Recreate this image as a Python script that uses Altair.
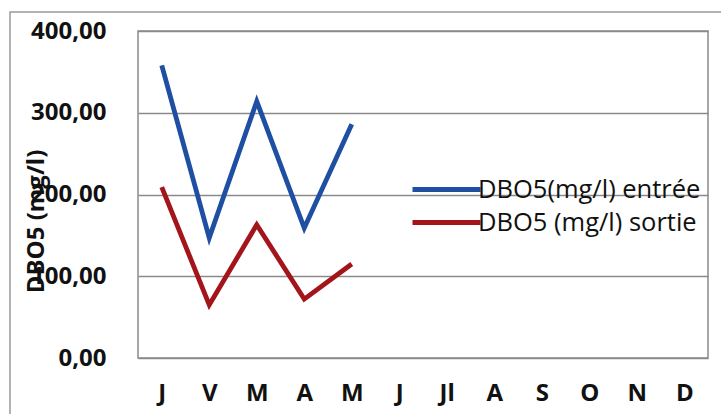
import altair as alt
import pandas as pd

month_labels = ["J", "V", "M", "A", "M", "J", "Jl", "A", "S", "O", "N", "D"]
entree = [358, 147, 314, 159, 286]
sortie = [209, 65, 163, 72, 115]
series_names = ["DBO5(mg/l) entrée", "DBO5 (mg/l) sortie"]
colors = ["#1f4fa3", "#a3151b"]

rows = []
for i, v in enumerate(entree):
    rows.append({"m": i, "v": v, "s": series_names[0]})
for i, v in enumerate(sortie):
    rows.append({"m": i, "v": v, "s": series_names[1]})
df = pd.DataFrame(rows)

label_js = "[" + ",".join("'" + l + "'" for l in month_labels) + "][datum.value]"

FONT = "Open Sans"

lines = alt.Chart(df).mark_line(strokeWidth=4.8).encode(
    x=alt.X("m:O", scale=alt.Scale(domain=list(range(12))),
            axis=alt.Axis(title=None, labelExpr=label_js, labelAngle=0, ticks=False,
                          domain=False, labelPadding=23, labelFont=FONT, labelFontSize=24,
                          labelFontWeight="bold", labelColor="#111", grid=False)),
    y=alt.Y("v:Q", scale=alt.Scale(domain=[0, 400], nice=False),
            axis=alt.Axis(title="DBO5 (mg/l)", values=[0, 100, 200, 300, 400],
                          labelExpr="replace(format(datum.value, '.2f'), '.', ',')",
                          ticks=False, domain=False, labelPadding=32, labelFont=FONT,
                          labelFontSize=24, labelFontWeight="bold", labelColor="#111",
                          titleFont=FONT, titleFontSize=24, titleFontWeight="bold",
                          titleColor="#111", titleAngle=270, titleX=-102, titleY=190,
                          titleAlign="center", titleBaseline="middle",
                          grid=True, gridColor="#8a8a8a", gridWidth=1.5)),
    color=alt.Color("s:N", scale=alt.Scale(domain=series_names, range=colors),
                    legend=alt.Legend(title=None, orient="none", legendX=289, legendY=139,
                                      symbolType="M-2,0H2", symbolSize=1156,
                                      symbolStrokeWidth=4.8, symbolFillColor="transparent",
                                      labelFont=FONT, labelFontSize=25.5, labelColor="#111",
                                      labelLimit=400, rowPadding=0, labelOffset=12)),
)

frame = alt.Chart(alt.Data(values=[{}])).mark_rect(
    fill=None, stroke="#9a9a9a", strokeWidth=1.5
).encode(x=alt.value(-128), y=alt.value(-19), x2=alt.value(600), y2=alt.value(400))

chart = alt.layer(frame, lines).properties(
    width=570, height=327,
    autosize=alt.AutoSizeParams(type="none"),
    padding={"left": 138, "top": 31, "right": 13, "bottom": 56},
    background="white",
).configure_view(stroke="#8a8a8a", strokeWidth=1.5)

chart.save("out.html", embed_options={"renderer": "svg", "actions": False})
